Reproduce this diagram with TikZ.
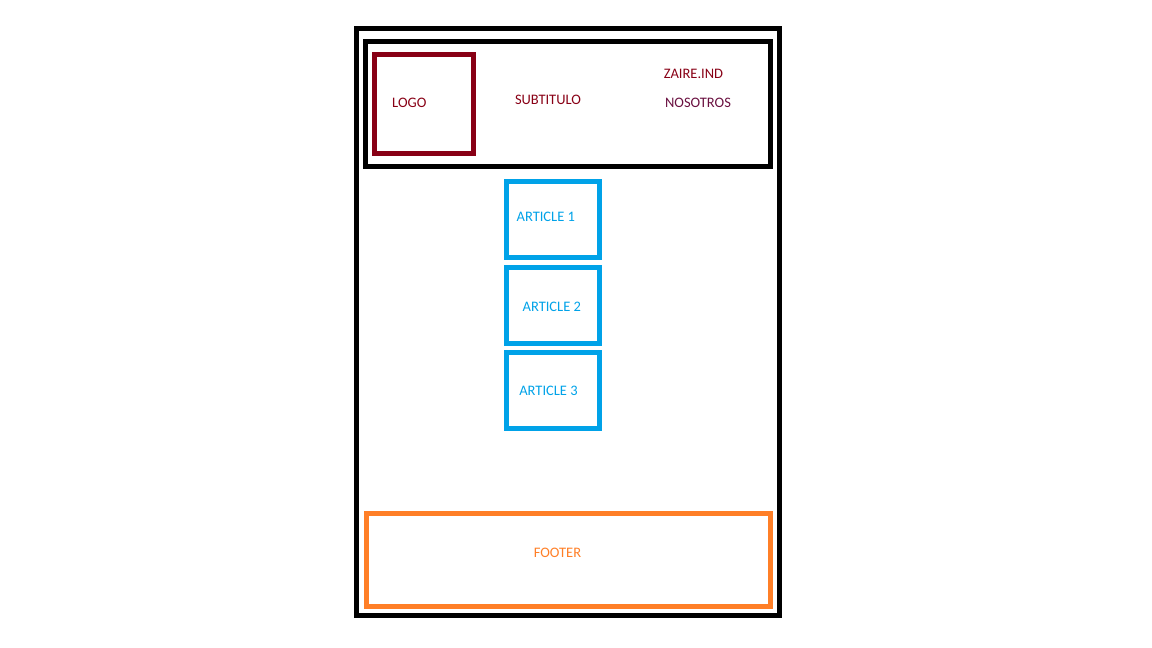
\documentclass[tikz,border=0pt]{standalone}
\usepackage{fontspec}
\setmainfont{Carlito}
\definecolor{dred}{HTML}{880015}
\definecolor{plum}{HTML}{6A1040}
\definecolor{skyb}{HTML}{00A2E8}
\definecolor{orng}{HTML}{FF7F27}
\begin{document}
\begin{tikzpicture}[x=1pt,y=-1pt,
  box/.style={draw,line width=5pt,inner sep=0pt,rectangle,miter limit=10},
  lbl/.style={inner sep=0pt,font=\fontsize{14.5}{16}\selectfont}]
\useasboundingbox (0,0) rectangle (1152,648);
\node[box,black,minimum width=422.5pt,minimum height=586.5pt] (page) at (567.75,321.75) {};
\node[box,black,minimum width=405pt,minimum height=125pt] (header) at (567.5,104) {};
\node[box,dred,minimum width=98.5pt,minimum height=99pt] (logo) at (423.75,104) {};
\node[box,skyb,minimum width=92.5pt,minimum height=76pt] (art1) at (552.75,219.5) {};
\node[box,skyb,minimum width=92.5pt,minimum height=75.5pt] (art2) at (552.75,305.25) {};
\node[box,skyb,minimum width=92.5pt,minimum height=75.5pt] (art3) at (552.75,390.25) {};
\node[box,orng,minimum width=403.5pt,minimum height=93pt] (footer) at (568.25,560) {};
\node[lbl,text=dred] (tlogo) at (409.3,103) {LOGO};
\node[lbl,text=dred] (tsub) at (548,100) {SUBTITULO};
\node[lbl,text=dred] (tzaire) at (693.5,74) {ZAIRE.IND};
\node[lbl,text=plum] (tnos) at (698,103) {NOSOTROS};
\node[lbl,text=skyb] (ta1) at (545.8,216.7) {ARTICLE 1};
\node[lbl,text=skyb] (ta2) at (551.8,307) {ARTICLE 2};
\node[lbl,text=skyb] (ta3) at (548.5,391.3) {ARTICLE 3};
\node[lbl,text=orng] (tfoot) at (557.5,553) {FOOTER};
\end{tikzpicture}
\end{document}
